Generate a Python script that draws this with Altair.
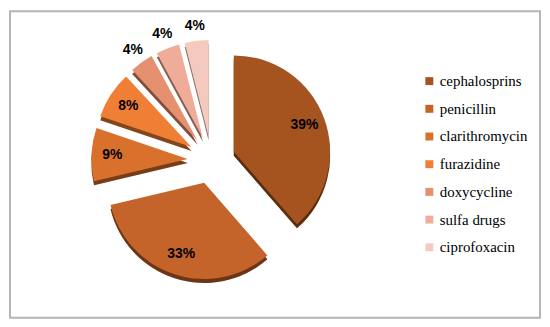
import altair as alt
import pandas as pd

drugs = ["cephalosprins", "penicillin", "clarithromycin", "furazidine",
         "doxycycline", "sulfa drugs", "ciprofoxacin"]
shares = [39, 33, 9, 8, 4, 4, 4]
colors = ["#A5531F", "#C4632A", "#D9702C", "#EE7F34", "#E5906F", "#EFAD99", "#F4C9BE"]

df = pd.DataFrame({"drug": drugs, "share": shares, "order": list(range(len(drugs)))})

OX, OY = 10, 10          # page offset of the plot origin
CX, CY = 213 - OX, 160 - OY
R = 97
EXPL = 24
DEPTH = 4

base = (
    alt.Chart(df)
    .transform_joinaggregate(total="sum(share)")
    .transform_window(cum="sum(share)", sort=[alt.SortField("order")], frame=[None, 0])
    .transform_calculate(t1="2*PI*datum.cum/datum.total")
    .transform_calculate(t0="2*PI*(datum.cum-datum.share)/datum.total")
    .transform_calculate(mid="(datum.t0+datum.t1)/2")
    .transform_calculate(cx=f"{CX}+{EXPL}*sin(datum.mid)")
    .transform_calculate(cy=f"{CY}-{EXPL}*cos(datum.mid)")
    .transform_calculate(cys=f"datum.cy+{DEPTH}")
    .transform_calculate(rl="datum.share>=5 ? 76 : 112")
    .transform_calculate(lx="datum.cx+datum.rl*sin(datum.mid)")
    .transform_calculate(ly="datum.cy-datum.rl*cos(datum.mid)")
    .transform_calculate(lab="datum.share+'%'")
)

color_scale = alt.Scale(domain=drugs, range=colors)
legend = alt.Legend(
    title=None, orient="none", legendX=415, legendY=63,
    symbolType="square", symbolSize=64, symbolStrokeWidth=0,
    labelFont="Liberation Serif", labelFontSize=15, labelColor="black",
    rowPadding=11.9, labelOffset=3, padding=0,
)
color_enc = alt.Color("drug:N", scale=color_scale, legend=legend)

shadow = base.mark_arc(outerRadius=R).encode(
    x=alt.X("cx:Q", scale=None),
    y=alt.Y("cys:Q", scale=None),
    theta=alt.Theta("t0:Q", scale=None),
    theta2="t1:Q",
    color=color_enc,
)
shadow_dark = base.mark_arc(outerRadius=R, color="black", opacity=0.45).encode(
    x=alt.X("cx:Q", scale=None),
    y=alt.Y("cys:Q", scale=None),
    theta=alt.Theta("t0:Q", scale=None),
    theta2="t1:Q",
)
main = base.mark_arc(outerRadius=R).encode(
    x=alt.X("cx:Q", scale=None),
    y=alt.Y("cy:Q", scale=None),
    theta=alt.Theta("t0:Q", scale=None),
    theta2="t1:Q",
    color=color_enc,
)
labels = base.mark_text(
    font="Liberation Sans", fontWeight="bold", fontSize=14, color="black",
    align="center", baseline="middle",
).encode(
    x=alt.X("lx:Q", scale=None),
    y=alt.Y("ly:Q", scale=None),
    text="lab:N",
)

chart = (
    alt.layer(shadow, shadow_dark, main, labels)
    .properties(width=534, height=309, padding=2, autosize="none")
    .configure_view(stroke="#B5B5B5", strokeWidth=2)
)

chart.save("out.html", embed_options={"renderer": "svg", "actions": False})
